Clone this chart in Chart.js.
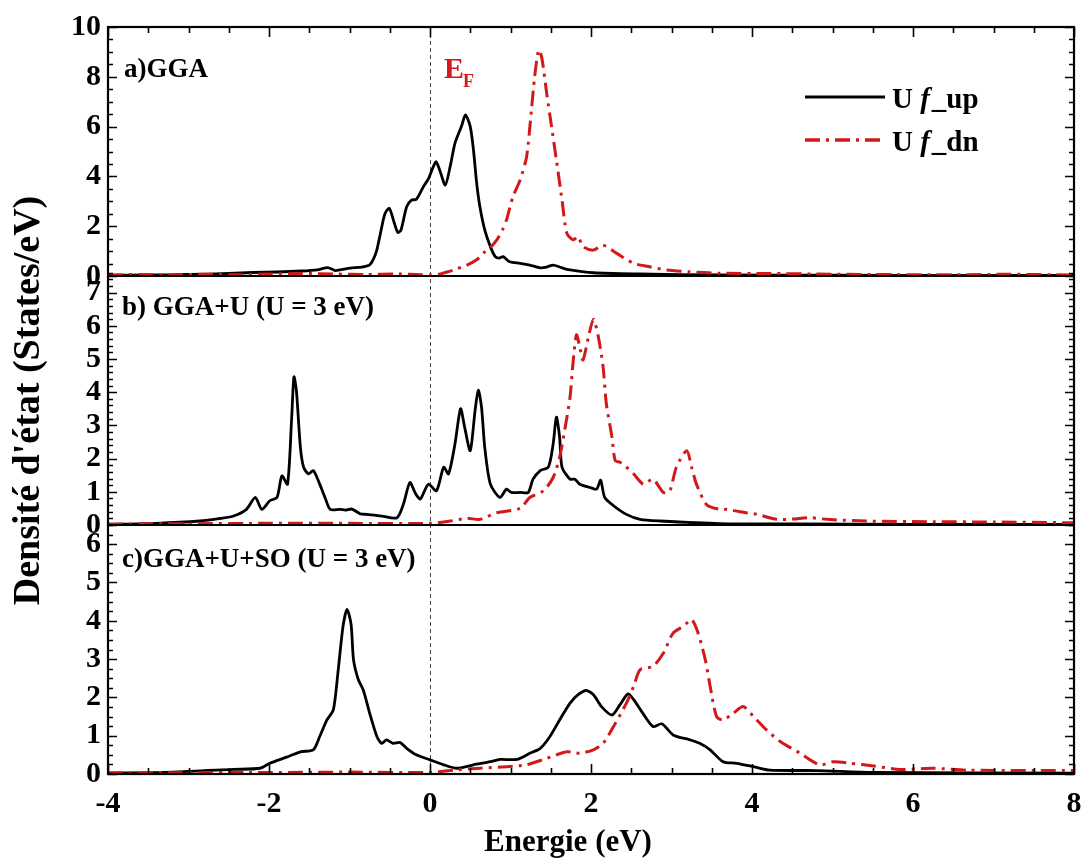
<!DOCTYPE html>
<html>
<head>
<meta charset="utf-8">
<title>Densité d'état U f</title>
<script src="https://cdn.jsdelivr.net/npm/chart.js@4.4.0/dist/chart.umd.min.js"></script>
<style>
  html, body { margin: 0; padding: 0; background: #fff; }
  canvas { display: block; }
</style>
</head>
<body>
<canvas id="dos" width="1084" height="864"></canvas>
<script>
// ---- U f partial DOS (States/eV) versus energy (eV), E_F = 0 ----

// a) GGA
const ggaUpE = [-4.0,-3.5,-3.0,-2.5,-2.2,-1.9,-1.6,-1.4,-1.27,-1.18,-1.1,-0.99,-0.85,-0.75,-0.70,-0.66,-0.61,-0.56,-0.505,-0.455,-0.40,-0.36,-0.29,-0.23,-0.17,-0.08,-0.02,0.03,0.075,0.12,0.19,0.25,0.31,0.39,0.44,0.50,0.54,0.58,0.62,0.68,0.75,0.81,0.86,0.91,0.99,1.12,1.24,1.37,1.45,1.53,1.62,1.70,2.03,2.6,3.6,5.0,6.5,8.0];
const ggaUpD = [0.02,0.04,0.06,0.10,0.14,0.16,0.20,0.25,0.34,0.22,0.26,0.32,0.36,0.45,0.70,1.05,1.80,2.50,2.72,2.25,1.75,1.85,2.78,3.05,3.08,3.60,3.90,4.30,4.59,4.26,3.65,4.39,5.33,6.00,6.47,6.00,5.06,3.72,2.78,1.85,1.18,0.78,0.72,0.78,0.57,0.51,0.44,0.33,0.36,0.44,0.35,0.27,0.13,0.08,0.04,0.03,0.02,0.02];
const ggaDnE = [-4.0,-3.6,-3.2,-2.8,-2.4,-2.0,-1.6,-1.2,-0.8,-0.4,-0.1,0.0,0.1,0.2,0.3,0.46,0.58,0.66,0.75,0.83,0.90,0.95,1.03,1.12,1.20,1.26,1.30,1.35,1.39,1.45,1.51,1.57,1.64,1.70,1.78,1.84,1.90,2.03,2.15,2.32,2.53,2.73,2.94,3.23,3.6,4.2,4.8,5.5,6.5,7.2,8.0];
const ggaDnD = [0.04,0.06,0.04,0.07,0.05,0.08,0.10,0.08,0.06,0.08,0.05,0.04,0.06,0.15,0.25,0.44,0.65,0.91,1.15,1.45,1.85,2.25,3.18,3.86,4.79,6.67,8.00,9.08,8.74,7.33,6.00,4.66,3.05,1.71,1.45,1.58,1.18,1.04,1.24,0.91,0.51,0.37,0.24,0.17,0.11,0.10,0.08,0.06,0.05,0.07,0.04];

// b) GGA+U (U = 3 eV)
const ggauUpE = [-4.0,-3.4,-2.86,-2.6,-2.44,-2.28,-2.17,-2.09,-1.99,-1.90,-1.84,-1.77,-1.72,-1.69,-1.66,-1.61,-1.57,-1.51,-1.45,-1.37,-1.30,-1.24,-1.12,-1.05,-0.97,-0.87,-0.79,-0.6,-0.41,-0.33,-0.25,-0.18,-0.12,-0.02,0.08,0.17,0.23,0.31,0.38,0.43,0.50,0.56,0.60,0.64,0.68,0.75,0.87,0.95,1.01,1.12,1.22,1.28,1.37,1.47,1.53,1.57,1.61,1.64,1.74,1.80,1.86,1.99,2.07,2.12,2.17,2.28,2.44,2.61,2.86,3.6,4.5,6.0,8.0];
const ggauUpD = [0.02,0.05,0.12,0.20,0.27,0.47,0.83,0.47,0.73,0.83,1.48,1.23,3.15,4.46,4.06,2.34,1.74,1.54,1.64,1.23,0.80,0.47,0.47,0.45,0.48,0.34,0.32,0.27,0.22,0.63,1.28,0.95,0.78,1.23,1.03,1.74,1.54,2.44,3.50,2.95,2.24,3.45,4.06,3.55,2.34,1.23,0.83,1.08,0.98,0.98,0.98,1.38,1.64,1.74,2.44,3.25,2.65,1.74,1.38,1.38,1.23,1.13,1.08,1.35,0.83,0.58,0.32,0.17,0.12,0.04,0.03,0.02,0.02];
const ggauDnE = [-4.0,-3.0,-2.0,-1.0,0.0,0.25,0.46,0.62,0.83,1.12,1.24,1.41,1.53,1.61,1.68,1.74,1.78,1.82,1.86,1.90,1.97,2.03,2.09,2.15,2.19,2.26,2.30,2.36,2.42,2.53,2.65,2.77,2.90,2.98,3.06,3.19,3.25,3.31,3.44,3.60,3.69,3.85,4.06,4.31,4.50,4.72,4.93,5.42,6.25,7.0,7.9,8.0];
const ggauDnD = [0.03,0.04,0.05,0.05,0.05,0.12,0.20,0.17,0.37,0.50,0.83,1.03,1.43,2.04,2.95,3.86,4.97,5.73,5.37,4.97,5.68,6.20,5.68,4.77,3.66,2.65,1.94,1.89,1.79,1.54,1.23,1.38,0.98,1.03,1.74,2.24,1.74,1.23,0.60,0.47,0.47,0.40,0.32,0.17,0.18,0.22,0.17,0.12,0.10,0.09,0.07,0.07];

// c) GGA+U+SO (U = 3 eV)
const ggausoUpE = [-4.0,-3.2,-2.44,-2.11,-1.99,-1.78,-1.61,-1.45,-1.37,-1.28,-1.20,-1.14,-1.08,-1.03,-0.98,-0.95,-0.89,-0.83,-0.75,-0.66,-0.60,-0.54,-0.46,-0.37,-0.29,-0.17,0.0,0.17,0.33,0.54,0.75,0.87,1.08,1.24,1.37,1.49,1.61,1.74,1.84,1.94,2.03,2.13,2.26,2.36,2.46,2.53,2.63,2.77,2.88,3.02,3.23,3.35,3.48,3.64,3.81,4.02,4.22,4.8,5.5,8.0];
const ggausoUpD = [0.02,0.05,0.12,0.15,0.28,0.44,0.58,0.63,0.98,1.41,1.68,2.72,3.86,4.30,3.90,2.98,2.46,2.20,1.59,0.98,0.80,0.89,0.80,0.82,0.67,0.50,0.37,0.24,0.15,0.24,0.32,0.38,0.38,0.54,0.67,0.98,1.41,1.85,2.07,2.18,2.07,1.76,1.54,1.81,2.09,1.94,1.63,1.24,1.31,1.02,0.89,0.80,0.63,0.32,0.28,0.19,0.10,0.09,0.04,0.02];
const ggausoDnE = [-4.0,-2.0,-1.0,0.0,0.29,0.62,0.95,1.20,1.45,1.70,1.86,2.03,2.15,2.28,2.44,2.53,2.61,2.77,2.90,3.02,3.15,3.25,3.33,3.42,3.48,3.56,3.64,3.77,3.89,4.02,4.18,4.35,4.60,4.84,5.01,5.22,5.51,5.84,6.25,6.67,7.9,8.0];
const ggausoDnD = [0.03,0.04,0.05,0.04,0.10,0.15,0.19,0.24,0.41,0.58,0.54,0.63,0.80,1.24,1.85,2.29,2.72,2.81,3.16,3.68,3.86,4.03,3.68,2.98,2.29,1.50,1.41,1.59,1.76,1.50,1.15,0.85,0.54,0.24,0.32,0.28,0.21,0.12,0.15,0.10,0.09,0.09];

// axis ticks and texts
const energyTicks = [-4, -2, 0, 2, 4, 6, 8];
const ticksA = [0, 2, 4, 6, 8, 10];
const ticksB = [0, 1, 2, 3, 4, 5, 6, 7];
const ticksC = [0, 1, 2, 3, 4, 5, 6];
const panelLabels = ['a)GGA', 'b) GGA+U (U = 3 eV)', 'c)GGA+U+SO (U = 3 eV)'];
const legendLabels = ['U f_up', 'U f_dn'];
const xTitle = 'Energie (eV)';
const yTitle = "Densité d'état (States/eV)";

const SERIF = "'Liberation Serif', 'Times New Roman', serif";
const RED = 'rgb(210,24,24)';
const DASH = [15, 6, 3, 6];

const toPoints = (E, D) => E.map((e, i) => ({ x: e, y: D[i] }));

function upSet(E, D, axis) {
  return { label: legendLabels[0], data: toPoints(E, D), yAxisID: axis,
    borderColor: '#000', borderWidth: 2.8, order: 1 };
}
function dnSet(E, D, axis) {
  return { label: legendLabels[1], data: toPoints(E, D), yAxisID: axis,
    borderColor: RED, borderWidth: 3, borderDash: DASH, order: 0 };
}

const datasets = [
  upSet(ggaUpE, ggaUpD, 'ya'), dnSet(ggaDnE, ggaDnD, 'ya'),
  upSet(ggauUpE, ggauUpD, 'yb'), dnSet(ggauDnE, ggauDnD, 'yb'),
  upSet(ggausoUpE, ggausoUpD, 'yc'), dnSet(ggausoDnE, ggausoDnD, 'yc')
];

const tickFont = { family: SERIF, size: 30, weight: 'bold' };

function panelAxis(max, ticks, weight, title) {
  return {
    type: 'linear', position: 'left', stack: 'dos', stackWeight: 1, weight: weight,
    min: 0, max: max, offset: false,
    afterBuildTicks: s => { s.ticks = ticks.map(v => ({ value: v })); },
    afterFit: s => { s.width = 108; },
    ticks: { font: tickFont, color: '#000', padding: 7, autoSkip: false },
    grid: { display: false, drawTicks: false },
    border: { display: false },
    title: title ? { display: true, text: title, color: '#000',
      font: { family: SERIF, size: 38, weight: 'bold' }, padding: { top: 6, bottom: 0 } }
      : { display: false }
  };
}

// minor/major tick spacing of each panel
const panelTicks = { ya: [2, 0.5], yb: [1, 0.2], yc: [1, 0.25] };

const decorPlugin = {
  id: 'decor',
  beforeDatasetsDraw(chart) {
    const { ctx, chartArea: ca, scales } = chart;
    const x0 = Math.round(scales.x.getPixelForValue(0)) + 0.5;
    ctx.save();
    ctx.strokeStyle = '#444';
    ctx.lineWidth = 1;
    ctx.setLineDash([4, 3]);
    ctx.beginPath();
    ctx.moveTo(x0, ca.top);
    ctx.lineTo(x0, ca.bottom);
    ctx.stroke();
    ctx.restore();
  },
  afterDatasetsDraw(chart) {
    const { ctx, chartArea: ca, scales } = chart;
    ctx.save();
    ctx.strokeStyle = '#000';
    ctx.setLineDash([]);

    // inward ticks on the left and right edges of every panel
    ctx.lineWidth = 1.6;
    for (const id of ['ya', 'yb', 'yc']) {
      const s = scales[id];
      const [major, minor] = panelTicks[id];
      const n = Math.round(s.max / minor);
      for (let i = 0; i <= n; i++) {
        const v = i * minor;
        const r = v / major;
        const len = Math.abs(r - Math.round(r)) < 1e-6 ? 9 : 5;
        const py = Math.round(s.getPixelForValue(v)) + 0.5;
        ctx.beginPath();
        ctx.moveTo(ca.left, py); ctx.lineTo(ca.left + len, py);
        ctx.moveTo(ca.right, py); ctx.lineTo(ca.right - len, py);
        ctx.stroke();
      }
    }
    // energy ticks on the top and bottom edges
    const xs = scales.x;
    for (let i = 0; i <= 24; i++) {
      const v = -4 + i * 0.5;
      const len = (v % 2 === 0) ? 10 : 6;
      const px = Math.round(xs.getPixelForValue(v)) + 0.5;
      ctx.beginPath();
      ctx.moveTo(px, scales.ya.top); ctx.lineTo(px, scales.ya.top + len);
      ctx.moveTo(px, scales.yc.bottom); ctx.lineTo(px, scales.yc.bottom - len);
      ctx.stroke();
    }

    // panel frames
    ctx.lineWidth = 2.2;
    ctx.strokeRect(ca.left, ca.top, ca.right - ca.left, ca.bottom - ca.top);
    ctx.beginPath();
    ctx.moveTo(ca.left, scales.ya.bottom); ctx.lineTo(ca.right, scales.ya.bottom);
    ctx.moveTo(ca.left, scales.yc.top); ctx.lineTo(ca.right, scales.yc.top);
    ctx.stroke();
    ctx.restore();
  },
  afterDraw(chart) {
    const { ctx, chartArea: ca, scales } = chart;
    ctx.save();
    ctx.fillStyle = '#000';
    ctx.textBaseline = 'alphabetic';
    ctx.textAlign = 'left';

    // panel captions
    ctx.font = `bold 27px ${SERIF}`;
    ctx.fillText(panelLabels[0], ca.left + 16, scales.ya.top + 50);
    ctx.fillText(panelLabels[1], ca.left + 14, scales.yb.top + 39);
    ctx.fillText(panelLabels[2], ca.left + 14, scales.yc.top + 42);

    // Fermi level label
    const xF = scales.x.getPixelForValue(0);
    ctx.fillStyle = RED;
    ctx.font = `bold 30px ${SERIF}`;
    ctx.fillText('E', xF + 14, scales.ya.top + 51);
    const wE = ctx.measureText('E').width;
    ctx.font = `bold 18px ${SERIF}`;
    ctx.fillText('F', xF + 14 + wE - 1, scales.ya.top + 60);

    // legend
    const sets = [chart.data.datasets[0], chart.data.datasets[1]];
    const rows = [scales.ya.top + 70, scales.ya.top + 113];
    sets.forEach((ds, i) => {
      const y = rows[i];
      ctx.strokeStyle = ds.borderColor;
      ctx.lineWidth = ds.borderWidth + 0.4;
      ctx.setLineDash(ds.borderDash || []);
      ctx.beginPath();
      ctx.moveTo(ca.right - 269, y);
      ctx.lineTo(ca.right - 189, y);
      ctx.stroke();
      ctx.setLineDash([]);
      const label = ds.label;
      const k = label.indexOf('f');
      let tx = ca.right - 182;
      const ty = y + 11;
      ctx.fillStyle = '#000';
      ctx.font = `bold 29px ${SERIF}`;
      ctx.fillText(label.slice(0, k), tx, ty);
      tx += ctx.measureText(label.slice(0, k)).width;
      ctx.font = `italic bold 29px ${SERIF}`;
      ctx.fillText('f', tx, ty);
      tx += ctx.measureText('f').width + 2;
      ctx.font = `bold 29px ${SERIF}`;
      ctx.fillText(label.slice(k + 1), tx, ty);
    });

    // energy axis title
    ctx.fillStyle = '#000';
    ctx.textAlign = 'center';
    ctx.textBaseline = 'middle';
    ctx.font = `bold 31px ${SERIF}`;
    ctx.fillText(xTitle, (ca.left + ca.right) / 2 - 23, 843);
    ctx.restore();
  }
};

new Chart(document.getElementById('dos'), {
  type: 'line',
  data: { datasets: datasets },
  options: {
    responsive: false,
    animation: false,
    devicePixelRatio: 1,
    layout: { padding: { top: 27, right: 0, left: 0, bottom: 0 } },
    elements: {
      point: { radius: 0, hoverRadius: 0 },
      line: { tension: 0.25, fill: false, borderCapStyle: 'butt', borderJoinStyle: 'round' }
    },
    plugins: { legend: { display: false }, tooltip: { enabled: false } },
    scales: {
      x: {
        type: 'linear', position: 'bottom', min: -4, max: 8,
        afterBuildTicks: s => { s.ticks = energyTicks.map(v => ({ value: v })); },
        afterFit: s => { s.height = 90; s.paddingLeft = 0; s.paddingRight = 10; },
        ticks: { font: tickFont, color: '#000', padding: 12, autoSkip: false, maxRotation: 0 },
        grid: { display: false, drawTicks: false },
        border: { display: false },
        title: { display: false }
      },
      ya: panelAxis(10, ticksA, 3, null),
      yb: panelAxis(7.5, ticksB, 2, yTitle),
      yc: panelAxis(6.5, ticksC, 1, null)
    }
  },
  plugins: [decorPlugin]
});
</script>
</body>
</html>
